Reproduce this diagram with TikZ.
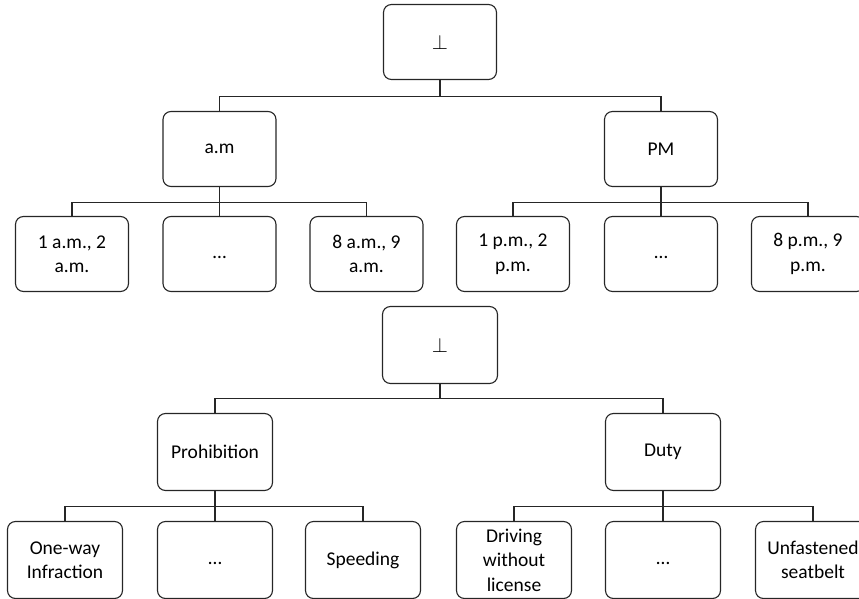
\documentclass[tikz,border=0pt]{standalone}
\usepackage{fontspec}
\setmainfont{Carlito}
\usetikzlibrary{positioning}
\definecolor{BoxLine}{HTML}{262626}

\begin{document}
\begin{tikzpicture}[x=1pt,y=1pt,
    box/.style={draw=BoxLine,line width=1.1pt,rounded corners=8pt,
      minimum width=113pt,minimum height=75pt,inner sep=2pt,align=center,
      font=\fontsize{19.5}{24.5}\selectfont},
    bigbox/.style={box,minimum width=115pt,minimum height=77pt},
    link/.style={BoxLine,line width=1.1pt}]
  \useasboundingbox (0,0) rectangle (859,-599);

  % hours of the day
  \node[box] (day) at (440,-42) {$\bot$};
  \node[box] (am) at (219.5,-149) {a.m};
  \node[box] (pm) at (661,-149) {PM};
  \node[box] (am1) at (72,-254)    {1 a.m., 2\\a.m.};
  \node[box] (am2) at (219.5,-254) {\strut…};
  \node[box] (am3) at (366.5,-254) {8 a.m., 9\\a.m.};
  \node[box] (pm1) at (513,-254)   {1 p.m., 2\\p.m.};
  \node[box] (pm2) at (661,-254)   {\strut…};
  \node[box] (pm3) at (808,-254)   {8 p.m., 9\\p.m.};

  \foreach \c in {am,pm}
    \draw[link] (day.south) -- ++(0,-16.5) -| (\c.north);
  \foreach \c in {am1,am2,am3}
    \draw[link] (am.south) -- ++(0,-15) -| (\c.north);
  \foreach \c in {pm1,pm2,pm3}
    \draw[link] (pm.south) -- ++(0,-15) -| (\c.north);

  % kinds of norms
  \node[bigbox] (norm) at (440,-345) {$\bot$};
  \node[bigbox] (proh) at (215,-452) {Prohibition};
  \node[bigbox] (duty) at (663,-452) {Duty};
  \node[bigbox] (pr1) at (65,-560)  {One-way\\Infraction};
  \node[bigbox] (pr2) at (215,-560) {\strut…};
  \node[bigbox] (pr3) at (363,-560) {Speeding};
  \node[bigbox] (du1) at (514,-560) {Driving\\without\\license};
  \node[bigbox] (du2) at (663,-560) {\strut…};
  \node[bigbox] (du3) at (813,-560) {Unfastened\\seatbelt};

  \foreach \c in {proh,duty}
    \draw[link] (norm.south) -- ++(0,-14.5) -| (\c.north);
  \foreach \c in {pr1,pr2,pr3}
    \draw[link] (proh.south) -- ++(0,-15.5) -| (\c.north);
  \foreach \c in {du1,du2,du3}
    \draw[link] (duty.south) -- ++(0,-15.5) -| (\c.north);
\end{tikzpicture}
\end{document}
